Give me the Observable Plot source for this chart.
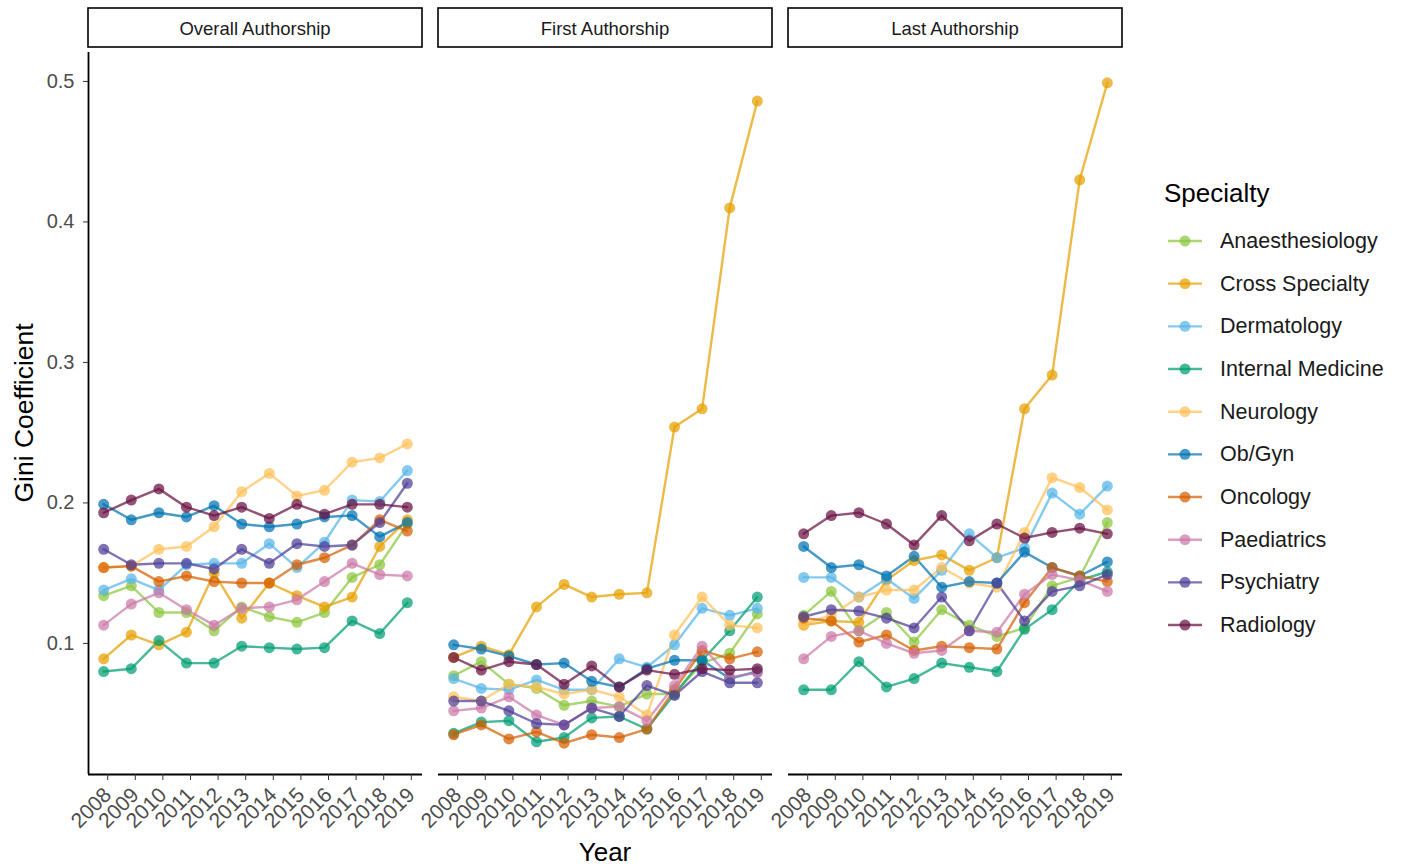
<!DOCTYPE html>
<html><head><meta charset="utf-8">
<script src="https://cdn.jsdelivr.net/npm/d3@7"></script>
<script src="https://cdn.jsdelivr.net/npm/@observablehq/plot@0.6"></script>
<style>
body{margin:0;background:#fff;font-family:"Liberation Sans",Arial,sans-serif;}
#chart{position:relative;width:1402px;height:866px;}
</style></head><body><div id="chart"></div>
<script>
const years = [2008,2009,2010,2011,2012,2013,2014,2015,2016,2017,2018,2019];
const facets = ["Overall Authorship","First Authorship","Last Authorship"];
const specialties = ["Anaesthesiology","Cross Specialty","Dermatology","Internal Medicine","Neurology","Ob/Gyn","Oncology","Paediatrics","Psychiatry","Radiology"];
const colors = ["#8CC63F","#E69F00","#56B4E9","#009E73","#FFC159","#0072B2","#D55E00","#CC79A7","#4E3D96","#6A1143"];
const yTicks = [0.1,0.2,0.3,0.4,0.5];

// rows follow the order of `specialties`, columns follow `years`
const overall = [
  [0.134,0.141,0.122,0.122,0.109,0.126,0.119,0.115,0.122,0.147,0.156,0.185],
  [0.089,0.106,0.099,0.108,0.150,0.118,0.143,0.134,0.126,0.133,0.169,0.188],
  [0.138,0.146,0.138,0.156,0.157,0.157,0.171,0.154,0.172,0.202,0.201,0.223],
  [0.080,0.082,0.102,0.086,0.086,0.098,0.097,0.096,0.097,0.116,0.107,0.129],
  [0.154,0.155,0.167,0.169,0.183,0.208,0.221,0.205,0.209,0.229,0.232,0.242],
  [0.199,0.188,0.193,0.190,0.198,0.185,0.183,0.185,0.190,0.191,0.176,0.186],
  [0.154,0.155,0.144,0.148,0.144,0.143,0.143,0.156,0.161,0.170,0.188,0.180],
  [0.113,0.128,0.136,0.124,0.113,0.125,0.126,0.131,0.144,0.157,0.149,0.148],
  [0.167,0.156,0.157,0.157,0.153,0.167,0.157,0.171,0.169,0.170,0.186,0.214],
  [0.193,0.202,0.210,0.197,0.191,0.197,0.189,0.199,0.192,0.199,0.199,0.197]
];
const first = [
  [0.077,0.087,0.071,0.068,0.056,0.059,0.055,0.064,0.064,0.086,0.093,0.121],
  [0.090,0.098,0.092,0.126,0.142,0.133,0.135,0.136,0.254,0.267,0.410,0.486],
  [0.075,0.068,0.067,0.074,0.067,0.067,0.089,0.083,0.099,0.125,0.120,0.125],
  [0.036,0.044,0.045,0.030,0.033,0.047,0.048,0.039,0.064,0.088,0.109,0.133],
  [0.062,0.059,0.071,0.069,0.064,0.067,0.062,0.049,0.106,0.133,0.113,0.111],
  [0.099,0.096,0.091,0.085,0.086,0.073,0.069,0.082,0.088,0.088,0.075,0.080],
  [0.035,0.042,0.032,0.037,0.029,0.035,0.033,0.039,0.067,0.095,0.089,0.094],
  [0.052,0.054,0.062,0.049,0.042,0.054,0.055,0.045,0.070,0.098,0.076,0.079],
  [0.059,0.059,0.052,0.043,0.042,0.054,0.048,0.070,0.063,0.080,0.072,0.072],
  [0.090,0.081,0.087,0.085,0.071,0.084,0.069,0.081,0.078,0.082,0.081,0.082]
];
const last = [
  [0.120,0.137,0.109,0.122,0.101,0.124,0.113,0.105,0.111,0.141,0.147,0.186],
  [0.113,0.116,0.115,0.145,0.159,0.163,0.152,0.161,0.267,0.291,0.430,0.499],
  [0.147,0.147,0.133,0.146,0.132,0.152,0.178,0.161,0.168,0.207,0.192,0.212],
  [0.067,0.067,0.087,0.069,0.075,0.086,0.083,0.080,0.110,0.124,0.145,0.151],
  [0.114,0.120,0.133,0.138,0.138,0.154,0.143,0.140,0.179,0.218,0.211,0.195],
  [0.169,0.154,0.156,0.148,0.162,0.140,0.144,0.143,0.165,0.154,0.148,0.158],
  [0.118,0.116,0.101,0.106,0.095,0.098,0.097,0.096,0.129,0.154,0.148,0.144],
  [0.089,0.105,0.109,0.100,0.093,0.095,0.109,0.108,0.135,0.149,0.145,0.137],
  [0.119,0.124,0.123,0.118,0.111,0.133,0.109,0.143,0.116,0.137,0.141,0.149],
  [0.178,0.191,0.193,0.185,0.170,0.191,0.173,0.185,0.175,0.179,0.182,0.178]
];

const seriesByFacet = {"Overall Authorship": overall, "First Authorship": first, "Last Authorship": last};
const data = facets.flatMap(f => seriesByFacet[f].flatMap((row, i) =>
  row.map((v, j) => ({facet: f, specialty: specialties[i], year: years[j], gini: v}))));

const FONT = '"Liberation Sans", Arial, sans-serif';
const W = 1402, H = 866, ML = 88, MR = 280, MT = 52, MB = 92;
const GAP = 16;
const bandW = (W - ML - MR - 2 * GAP) / 3;
const xDomain = [2007.45, 2019.55];
const yDomain = [0.0067, 0.5206];
const OP = 0.72;

const chart = Plot.plot({
  width: W, height: H,
  marginLeft: ML, marginRight: MR, marginTop: MT, marginBottom: MB,
  style: {fontFamily: FONT, background: "white", overflow: "visible"},
  fx: {domain: facets, axis: null, paddingInner: GAP / (bandW + GAP), paddingOuter: 0, label: null},
  x: {domain: xDomain, axis: null},
  y: {domain: yDomain, axis: null},
  color: {domain: specialties, range: colors},
  marks: [
    Plot.line(data, {x: "year", y: "gini", z: "specialty", stroke: "specialty", fx: "facet",
      strokeWidth: 2.4, strokeOpacity: OP}),
    Plot.dot(data, {x: "year", y: "gini", fill: "specialty", fx: "facet", r: 5.5, fillOpacity: OP}),
    Plot.ruleY([yDomain[0]], {stroke: "black", strokeWidth: 1.8}),
    Plot.ruleX([{facet: facets[0]}], {x: () => xDomain[0], fx: "facet", stroke: "black", strokeWidth: 1.8}),
    Plot.axisY(yTicks, {anchor: "left", facetAnchor: "left", tickSize: 5, tickPadding: 9,
      tickFormat: d => d.toFixed(1), fontSize: 20, fill: "#4d4d4d", stroke: "#333333", label: null}),
    Plot.axisX(years, {anchor: "bottom", tickSize: 6, tickPadding: 11, tickRotate: -45, dx: 4,
      tickFormat: d => String(d), fontSize: 21, fill: "#4d4d4d", stroke: "#333333", label: null})
  ]
});
document.getElementById("chart").appendChild(chart);

const svg = d3.select(chart);
// facet strips
facets.forEach((f, i) => {
  const left = ML + i * (bandW + GAP);
  const g = svg.append("g");
  g.append("rect").attr("x", left).attr("y", 8).attr("width", bandW).attr("height", 39)
    .attr("fill", "white").attr("stroke", "black").attr("stroke-width", 1.6);
  g.append("text").attr("x", left + bandW / 2).attr("y", 28).attr("text-anchor", "middle")
    .attr("dominant-baseline", "central").attr("font-size", 18.5).attr("font-family", FONT)
    .attr("fill", "#1a1a1a").text(f);
});
// axis titles
svg.append("text").attr("transform", `translate(24,${(MT + H - MB) / 2}) rotate(-90)`)
  .attr("text-anchor", "middle").attr("dominant-baseline", "central")
  .attr("font-size", 26.5).attr("font-family", FONT).attr("fill", "black").text("Gini Coefficient");
svg.append("text").attr("x", ML + (W - ML - MR) / 2).attr("y", 861).attr("text-anchor", "middle")
  .attr("font-size", 26).attr("font-family", FONT).attr("fill", "black").text("Year");
// legend
const color = chart.scale("color");
const lg = svg.append("g").attr("text-anchor", "start");
lg.append("text").attr("x", 1164).attr("y", 202).attr("text-anchor", "start").attr("font-size", 26)
  .attr("font-family", FONT).attr("fill", "black").text("Specialty");
specialties.forEach((s, i) => {
  const cy = 241 + i * 42.67;
  const c = colors[color.domain.indexOf(s)];
  lg.append("line").attr("x1", 1168).attr("x2", 1202).attr("y1", cy).attr("y2", cy)
    .attr("stroke", c).attr("stroke-width", 2.4).attr("stroke-opacity", OP);
  lg.append("circle").attr("cx", 1185).attr("cy", cy).attr("r", 5.5).attr("fill", c).attr("fill-opacity", OP);
  lg.append("text").attr("x", 1220).attr("y", cy).attr("text-anchor", "start").attr("dominant-baseline", "central")
    .attr("font-size", 21.5).attr("font-family", FONT).attr("fill", "#1a1a1a").text(s);
});
</script></body></html>
